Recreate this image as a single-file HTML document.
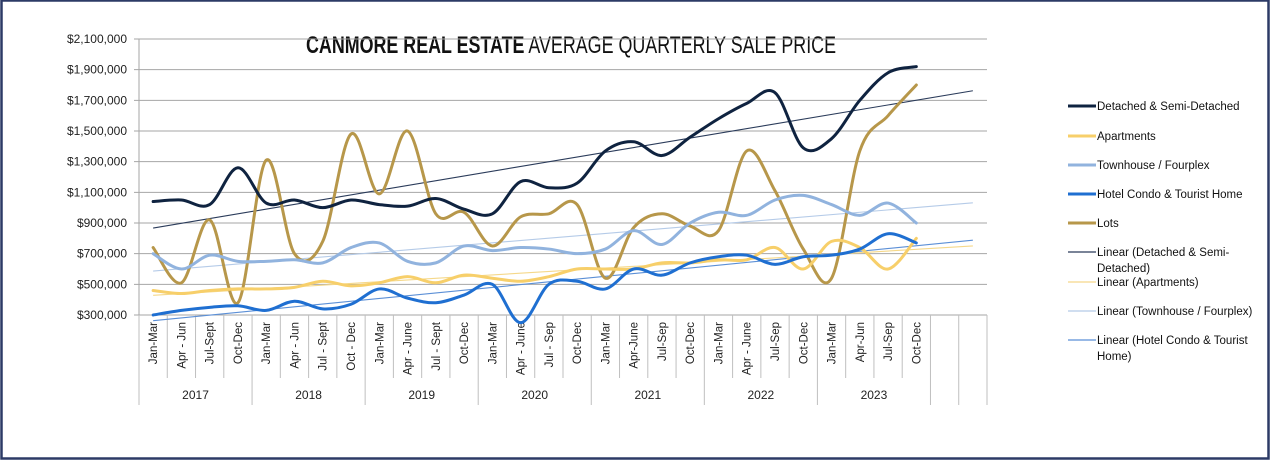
<!DOCTYPE html>
<html><head><meta charset="utf-8"><style>
html,body{margin:0;padding:0;background:#fff;}
svg{display:block;font-family:"Liberation Sans",Arial,sans-serif;}
</style></head><body>
<svg id="chart" width="1272" height="461" viewBox="0 0 1272 461">
<rect x="1.5" y="0.5" width="1267" height="458" fill="#fff" stroke="#2c3a66" stroke-width="2.5"/>
<text x="306" y="53" textLength="530" lengthAdjust="spacingAndGlyphs" font-size="24" fill="#111"><tspan font-weight="bold">CANMORE REAL ESTATE</tspan> AVERAGE QUARTERLY SALE PRICE</text>
<g id="grid"></g>
<g id="xaxis"></g>
<g id="trends"></g>
<g id="series"></g>
<g id="legend"></g>
</svg>
<script>
const quarters = ["Jan-Mar","Apr - Jun","Jul-Sept","Oct-Dec","Jan-Mar","Apr - Jun","Jul - Sept","Oct - Dec","Jan-Mar","Apr - June","Jul - Sept","Oct-Dec","Jan-Mar","Apr - June","Jul - Sep","Oct-Dec","Jan-Mar","Apr-June","Jul-Sep","Oct-Dec","Jan-Mar","Apr - June","Jul-Sep","Oct-Dec","Jan-Mar","Apr-Jun","Jul-Sep","Oct-Dec","",""];
const years = ["2017","2018","2019","2020","2021","2022","2023"];
const yTicks = [300000,500000,700000,900000,1100000,1300000,1500000,1700000,1900000,2100000];
const detached = [1040,1050,1020,1260,1030,1050,1000,1050,1020,1010,1060,990,960,1170,1130,1160,1370,1430,1340,1460,1580,1680,1750,1390,1450,1700,1880,1920];
const apartments = [460,440,460,470,470,480,520,490,510,550,510,560,540,520,550,600,600,600,640,640,660,660,740,600,780,740,600,800];
const townhouse = [700,600,690,650,650,660,640,740,770,650,640,750,720,740,730,700,730,850,760,900,970,950,1050,1080,1020,950,1030,900];
const hotel = [300,330,350,360,330,390,340,370,470,410,380,430,500,250,500,520,470,600,560,640,680,690,630,680,690,730,830,770];
const lots = [740,510,920,380,1310,700,780,1480,1090,1500,960,970,750,940,960,1020,540,870,960,880,850,1370,1110,730,540,1370,1600,1800];

const NS="http://www.w3.org/2000/svg";
const X0=139, X1=987, NSLOT=30, SW=(X1-X0)/NSLOT;
const xPos=i=>X0+SW*(i+0.5);
const yPos=v=>315-(v-300000)/1800000*276;
const yK=v=>yPos(v*1000);
function mk(tag,attrs,parent){const e=document.createElementNS(NS,tag);for(const k in attrs)e.setAttribute(k,attrs[k]);parent.appendChild(e);return e;}
const fmt=v=>"$"+v.toLocaleString("en-US");

const grid=document.getElementById("grid");
yTicks.forEach(t=>{
  const y=yPos(t);
  const l=mk("line",{x1:134,x2:X1,y1:y,y2:y,stroke:"#a6a6a6","stroke-width":1},grid);
  
  
  const tx=mk("text",{x:127,y:y+4,"text-anchor":"end","font-size":12,fill:"#222"},grid);
  tx.textContent=fmt(t);
  
  
});
const ya=mk("line",{x1:X0,x2:X0,y1:39,y2:315,stroke:"#a6a6a6"},grid);



const xa=document.getElementById("xaxis");
for(let i=0;i<=NSLOT;i++){
  const x=X0+SW*i;
  const isYear=(i%4===0 && i<=28)||i>=28;
  const l=mk("line",{x1:x,x2:x,y1:315,y2:isYear?405:378,stroke:"#bfbfbf"},xa);
  
  
}
quarters.forEach((q,i)=>{
  if(!q)return;
  const x=xPos(i)+4;
  const t=mk("text",{x:x,y:322,"text-anchor":"end","font-size":11.5,fill:"#222",transform:`rotate(-90 ${x} 322)`},xa);
  t.textContent=q;
  
  
});
years.forEach((yr,k)=>{
  const t=mk("text",{x:X0+SW*(4*k+2),y:399,"text-anchor":"middle","font-size":12,fill:"#222"},xa);
  t.textContent=yr;
  
  
});

function smooth(vals){
  const p=vals.map((v,i)=>[xPos(i),yK(v)]);
  let d=`M${p[0][0]},${p[0][1]}`;
  const tn=1/6;
  for(let i=0;i<p.length-1;i++){
    const p0=p[Math.max(0,i-1)],p1=p[i],p2=p[i+1],p3=p[Math.min(p.length-1,i+2)];
    const c1=[p1[0]+(p2[0]-p0[0])*tn,p1[1]+(p2[1]-p0[1])*tn];
    const c2=[p2[0]-(p3[0]-p1[0])*tn,p2[1]-(p3[1]-p1[1])*tn];
    d+=` C${c1[0]},${c1[1]} ${c2[0]},${c2[1]} ${p2[0]},${p2[1]}`;
  }
  return d;
}
function trend(vals){
  const n=vals.length;let sx=0,sy=0,sxx=0,sxy=0;
  vals.forEach((v,i)=>{sx+=i;sy+=v;sxx+=i*i;sxy+=i*v;});
  const b=(n*sxy-sx*sy)/(n*sxx-sx*sx),a=(sy-b*sx)/n;
  return [a,a+b*29];
}
const series=[
 {name:"Detached & Semi-Detached",data:detached,color:"#0f2340",tc:"#2a3b5a",trend:true,id:"detached"},
 {name:"Apartments",data:apartments,color:"#f7cf6a",tc:"#f5d88a",trend:true,id:"apartments"},
 {name:"Townhouse / Fourplex",data:townhouse,color:"#91b3de",tc:"#b5cbe8",trend:true,id:"townhouse"},
 {name:"Hotel Condo & Tourist Home",data:hotel,color:"#1f6fd1",tc:"#5b8fd6",trend:true,id:"hotel"},
 {name:"Lots",data:lots,color:"#b7974a",trend:false,id:"lots"}
];
const tg=document.getElementById("trends"),sg=document.getElementById("series");
series.forEach(s=>{
  if(s.trend){
    const [a,b]=trend(s.data);
    const l=mk("line",{x1:xPos(0),y1:yK(a),x2:xPos(29),y2:yK(b),stroke:s.tc,"stroke-width":1.1},tg);
    
    
  }
});
[4,2,0,1,3].forEach(k=>{
  const s=series[k];
  const p=mk("path",{d:smooth(s.data),fill:"none",stroke:s.color,"stroke-width":3,"stroke-linecap":"round"},sg);
  
  
});

const lg=document.getElementById("legend");
const entries=[
 {t:["Detached & Semi-Detached"],c:"#0f2340",w:3,y:106},
 {t:["Apartments"],c:"#f7cf6a",w:3,y:136},
 {t:["Townhouse / Fourplex"],c:"#91b3de",w:3,y:165},
 {t:["Hotel Condo & Tourist Home"],c:"#1f6fd1",w:3,y:194},
 {t:["Lots"],c:"#b7974a",w:3,y:223},
 {t:["Linear (Detached & Semi-","Detached)"],c:"#2a3b5a",w:1.2,y:252},
 {t:["Linear (Apartments)"],c:"#f5d88a",w:1.2,y:282},
 {t:["Linear (Townhouse / Fourplex)"],c:"#b5cbe8",w:1.2,y:311},
 {t:["Linear (Hotel Condo & Tourist","Home)"],c:"#5b8fd6",w:1.2,y:340}
];
entries.forEach(e=>{
  const g=mk("g",{},lg);
  
  
  mk("line",{x1:1068,x2:1096,y1:e.y,y2:e.y,stroke:e.c,"stroke-width":e.w},g);
  e.t.forEach((s,j)=>{
    const t=mk("text",{x:1097,y:e.y+4+j*16,"font-size":11.5,fill:"#111"},g);
    t.textContent=s;
  });
});
</script>
</body></html>
